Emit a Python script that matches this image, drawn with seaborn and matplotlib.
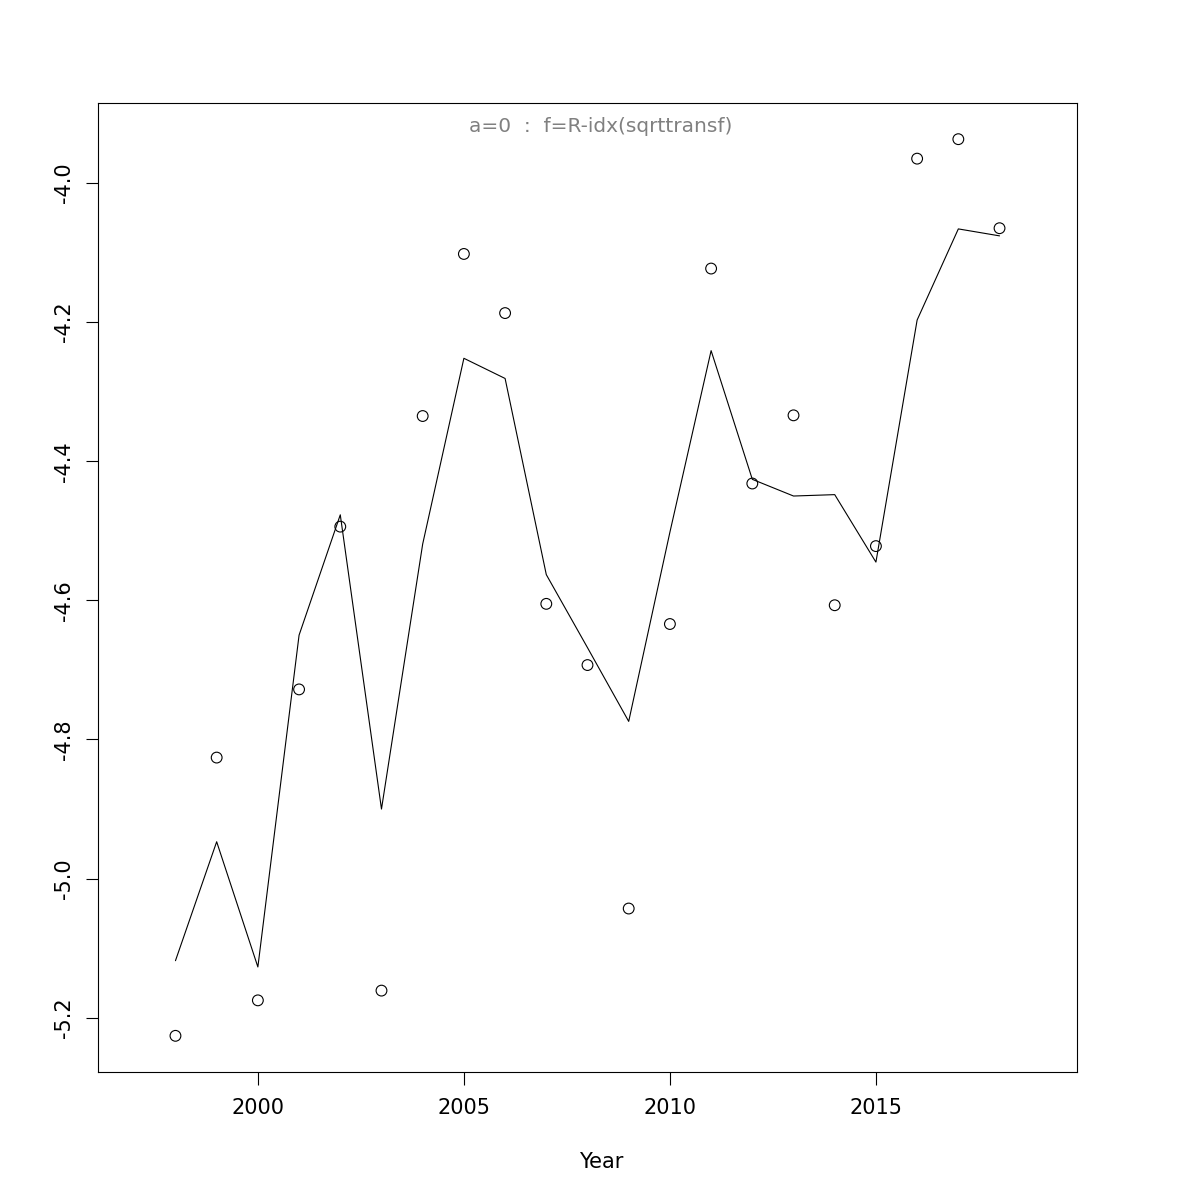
import matplotlib
matplotlib.use("Agg")
import matplotlib.pyplot as plt
import seaborn as sns
import pandas as pd

# -------------------------------------------------------------------
# Données
# -------------------------------------------------------------------

years = [1998, 1999, 2000, 2001, 2002, 2003, 2004, 2005, 2006, 2007, 2008,
         2009, 2010, 2011, 2012, 2013, 2014, 2015, 2016, 2017, 2018]

observed = [-5.226, -4.826, -5.175, -4.728, -4.494, -5.161, -4.335, -4.102,
            -4.187, -4.605, -4.693, -5.043, -4.634, -4.123, -4.432, -4.334,
            -4.607, -4.522, -3.965, -3.937, -4.065]

fitted = [-5.118, -4.947, -5.127, -4.650, -4.477, -4.900, -4.519, -4.252,
          -4.281, -4.563, -4.668, -4.774, -4.502, -4.241, -4.426, -4.450,
          -4.448, -4.545, -4.197, -4.066, -4.076]

x_ticks = [2000, 2005, 2010, 2015]
y_ticks = [-5.2, -5.0, -4.8, -4.6, -4.4, -4.2, -4.0]

title_text = "a=0  :  f=R-idx(sqrttransf)"

df = pd.DataFrame({"Year": years, "observed": observed, "fitted": fitted})

# -------------------------------------------------------------------
# Figure
# -------------------------------------------------------------------

sns.set_style("white")
plt.rcParams["font.family"] = ["DejaVu Sans"]
plt.rcParams["text.color"] = "black"
plt.rcParams["axes.labelcolor"] = "black"

fig = plt.figure(figsize=(12, 12), dpi=100)
ax = fig.add_axes([98 / 1200, 1 - 1072 / 1200, 979 / 1200, 969 / 1200])

sns.scatterplot(data=df, x="Year", y="observed", ax=ax, marker="o",
                s=60, facecolor="none", edgecolor="black", linewidth=0.8)
sns.lineplot(data=df, x="Year", y="fitted", ax=ax, color="black",
             linewidth=0.8)

ax.set_xlim(1996.12, 2019.88)
ax.set_ylim(-5.278, -3.885)

ax.set_xticks(x_ticks)
ax.set_xticklabels([str(v) for v in x_ticks])
ax.set_yticks(y_ticks)
ax.set_yticklabels([f"{v:.1f}" for v in y_ticks], rotation=90, va="center")

ax.tick_params(axis="both", direction="out", length=9, width=0.8,
               color="black", labelsize=15, labelcolor="black", left=True,
               bottom=True)
ax.tick_params(axis="x", pad=10)
ax.tick_params(axis="y", pad=8)

for spine in ax.spines.values():
    spine.set_visible(True)
    spine.set_color("black")
    spine.set_linewidth(0.8)

ax.set_ylabel("")
ax.set_xlabel("Year", fontsize=15, color="black")
ax.xaxis.set_label_coords((601 - 98) / 979, -(1162 - 1072) / 969)
ax.xaxis.label.set_va("center")

ax.text((601 - 98) / 979, (1072 - 127) / 969, title_text,
        transform=ax.transAxes, ha="center", va="center", fontsize=14.5,
        color="#808080")

ax.grid(False)

fig.savefig("out.png", dpi=100, facecolor="white")
